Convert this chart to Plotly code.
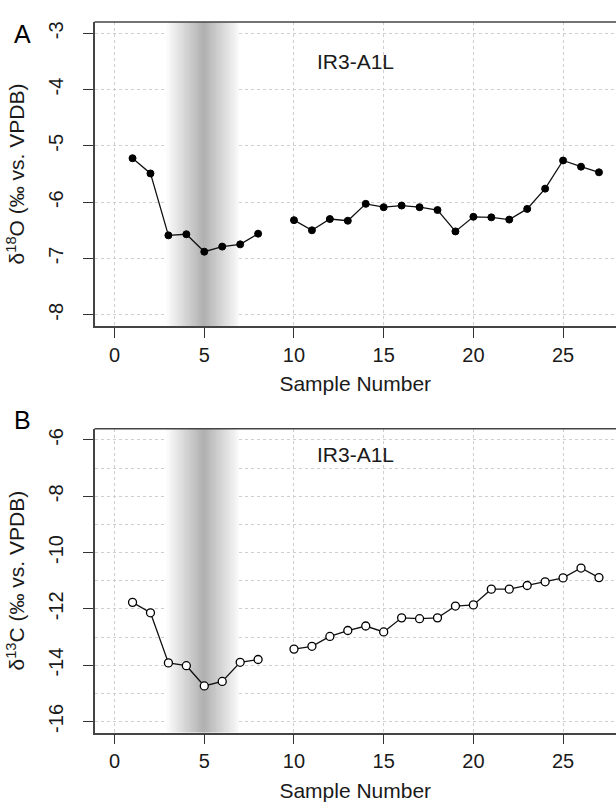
import plotly.graph_objects as go

samples = list(range(1, 28))
d18O = [-5.22, -5.49, -6.59, -6.57, -6.88, -6.79, -6.75, -6.56, None,
        -6.32, -6.50, -6.30, -6.33, -6.03, -6.09, -6.06, -6.09, -6.14,
        -6.52, -6.26, -6.27, -6.31, -6.12, -5.76, -5.26, -5.37, -5.47]
d13C = [-11.77, -12.14, -13.92, -14.02, -14.74, -14.58, -13.90, -13.80, None,
        -13.43, -13.33, -12.98, -12.77, -12.61, -12.82, -12.32, -12.35, -12.32,
        -11.90, -11.86, -11.30, -11.30, -11.17, -11.04, -10.90, -10.55, -10.89]
x_ticks = [0, 5, 10, 15, 20, 25]
y1_ticks = [-3, -4, -5, -6, -7, -8]
y1_labels = ["-3", "-4", "-5", "-6", "-7", "-8"]
y2_ticks = [-6, -8, -10, -12, -14, -16]
y2_labels = ["-6", "-8", "-10", "-12", "-14", "-16"]
shade_start, shade_peak, shade_end = 2.95, 4.95, 6.9
sample_label = "IR3-A1L"

FONT = "Liberation Sans, Arial, sans-serif"
W, H = 616, 812
xdom = [94.5 / W, 1.0]
y1dom = [(H - 326) / H, (H - 22) / H]
y2dom = [(H - 732.7) / H, (H - 428.7) / H]
xr = [-1.12, 27.95]
y1r = [-8.2, -2.8]
y2r = [-16.4, -5.6]

fig = go.Figure()

# shaded gradient band: smooth heatmap (0 = darkest at peak, 1 = edge)
n = 60
band_x, band_z = [], []
for i in range(n + 1):
    xv = shade_start + (shade_end - shade_start) * i / n
    half = (shade_peak - shade_start) if xv <= shade_peak else (shade_end - shade_peak)
    band_x.append(xv)
    band_z.append(min(1.0, abs(xv - shade_peak) / half))
gray_scale = [[0, "rgb(176,176,176)"], [1, "rgb(250,250,250)"]]
for xa, ya, yr in (("x", "y", y1r), ("x2", "y2", y2r)):
    fig.add_trace(go.Heatmap(x=band_x, y=yr, z=[band_z, band_z],
                             colorscale=gray_scale, zmin=0, zmax=1,
                             zsmooth="best", showscale=False, hoverinfo="skip",
                             xaxis=xa, yaxis=ya))

shapes = []
# top border lines of boxes
for dom in (y1dom, y2dom):
    shapes.append(dict(type="line", xref="paper", yref="paper",
                       x0=xdom[0], x1=1.0, y0=dom[1], y1=dom[1],
                       line=dict(color="#444", width=1.5)))

fig.add_trace(go.Scatter(x=samples, y=d18O, mode="lines+markers",
                         line=dict(color="#111", width=1.3),
                         marker=dict(symbol="circle", size=7, color="black",
                                     line=dict(color="black", width=1)),
                         connectgaps=False, xaxis="x", yaxis="y",
                         showlegend=False))
fig.add_trace(go.Scatter(x=samples, y=d13C, mode="lines+markers",
                         line=dict(color="#111", width=1.3),
                         marker=dict(symbol="circle", size=8, color="white",
                                     line=dict(color="black", width=1.3)),
                         connectgaps=False, xaxis="x2", yaxis="y2",
                         showlegend=False))

grid = dict(showgrid=True, gridcolor="#cfcfcf", griddash="dot", gridwidth=1)
xcommon = dict(domain=xdom, range=xr, tickmode="array", tickvals=x_ticks,
               ticks="outside", ticklen=10, tickcolor="#333", tickwidth=1,
               showline=True, linecolor="#444", linewidth=1.5, zeroline=False,
               tickfont=dict(family=FONT, size=20, color="#1a1a1a"),
               title=dict(text="Sample Number", standoff=12,
                          font=dict(family=FONT, size=21, color="#1a1a1a")),
               **grid)
ycommon = dict(ticks="outside", ticklen=10, tickcolor="#333", tickwidth=1,
               showline=True, linecolor="#444", linewidth=1.5, zeroline=False,
               tickangle=-90, ticklabelstandoff=12,
               tickfont=dict(family=FONT, size=20, color="#1a1a1a"),
               **grid)

fig.update_layout(
    width=W, height=H, margin=dict(l=0, r=0, t=0, b=0),
    plot_bgcolor="white", paper_bgcolor="white",
    shapes=shapes,
    xaxis=dict(anchor="y", **xcommon),
    xaxis2=dict(anchor="y2", **xcommon),
    yaxis=dict(domain=y1dom, anchor="x", range=y1r,
               tickmode="array", tickvals=y1_ticks, ticktext=y1_labels,
               title=dict(text="δ<sup>18</sup>O (‰ vs. VPDB)", standoff=14,
                          font=dict(family=FONT, size=21, color="#1a1a1a")),
               **ycommon),
    yaxis2=dict(domain=y2dom, anchor="x2", range=y2r,
                tickmode="array", tickvals=y2_ticks, ticktext=y2_labels,
                minor=dict(dtick=1, showgrid=True, gridcolor="#cfcfcf",
                           griddash="dot", ticklen=0),
                title=dict(text="δ<sup>13</sup>C (‰ vs. VPDB)", standoff=14,
                           font=dict(family=FONT, size=21, color="#1a1a1a")),
                **ycommon),
    annotations=[
        dict(text="A", x=12 / W, y=1 - 18 / H, xref="paper", yref="paper",
             showarrow=False, font=dict(family=FONT, size=25, color="black")),
        dict(text="B", x=12 / W, y=1 - 420 / H, xref="paper", yref="paper",
             showarrow=False, font=dict(family=FONT, size=25, color="black")),
        dict(text=sample_label, x=355 / W, y=1 - 47.7 / H, xref="paper",
             yref="paper", showarrow=False,
             font=dict(family=FONT, size=21, color="#1a1a1a")),
        dict(text=sample_label, x=355 / W, y=1 - 454.7 / H, xref="paper",
             yref="paper", showarrow=False,
             font=dict(family=FONT, size=21, color="#1a1a1a")),
    ],
)

fig.write_html("out.html", config={"displayModeBar": False},
               post_script="document.body.style.margin='0';"
                           "document.body.style.overflow='hidden';")
